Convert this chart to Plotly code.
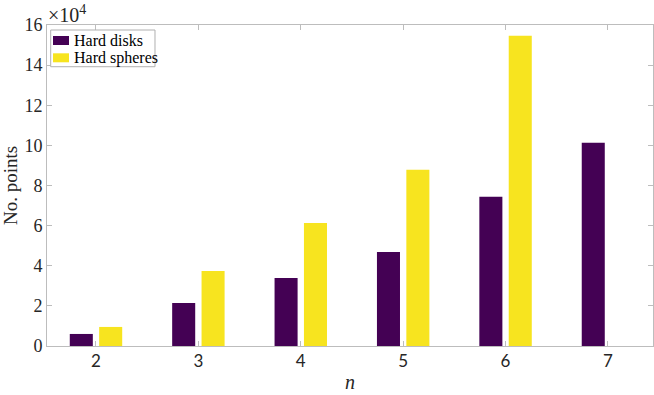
import plotly.graph_objects as go

# Number of points per dimension n
n_values = [2, 3, 4, 5, 6, 7]
hard_disks = [0.60, 2.14, 3.39, 4.69, 7.44, 10.13]        # x 10^4
hard_spheres = [0.95, 3.74, 6.13, 8.79, 15.47, None]     # x 10^4
y_ticks = [0, 2, 4, 6, 8, 10, 12, 14, 16]

series_names = ["Hard disks", "Hard spheres"]
series_colors = ["#440154", "#F7E41F"]

SERIF = "Liberation Serif"
SANS = "Lato"
AXIS_GRAY = "#bdbdbd"
TEXT = "#262626"

fig = go.Figure()
for name, vals, col in zip(series_names, [hard_disks, hard_spheres], series_colors):
    fig.add_trace(go.Bar(x=n_values, y=vals, name=name,
                         marker=dict(color=col, line=dict(width=0))))

axis_common = dict(
    showgrid=False, zeroline=False, showline=True, linecolor=AXIS_GRAY,
    linewidth=1, mirror="ticks", ticks="inside", ticklen=5,
    tickcolor=AXIS_GRAY,
)

fig.update_layout(
    width=654, height=395,
    margin=dict(l=47, r=1, t=25, b=49),
    paper_bgcolor="white", plot_bgcolor="white",
    barmode="group", bargap=0.426, bargroupgap=0.216,
    showlegend=False,
    xaxis=dict(**axis_common, range=[1.5215, 7.44], tickvals=n_values,
               tickfont=dict(family=SANS, size=17, color=TEXT),
               title=dict(text="<i>n</i>", font=dict(family=SERIF, size=20, color=TEXT),
                          standoff=4)),
    yaxis=dict(**axis_common, range=[0, 16], tickvals=y_ticks,
               tickfont=dict(family=SERIF, size=18, color=TEXT),
               title=dict(text="No. points", font=dict(family=SERIF, size=19, color=TEXT),
                          standoff=8)),
)

# Exponent label above the y axis
fig.add_annotation(text="\u00d710<sup>4</sup>", xref="paper", yref="paper",
                   x=-0.001, y=1.0, xanchor="left", yanchor="bottom",
                   showarrow=False, yshift=-3,
                   font=dict(family=SERIF, size=20, color=TEXT))

# Legend box drawn in paper coordinates
fig.add_shape(type="rect", xref="paper", yref="paper",
              x0=0.0061, x1=0.1782, y0=0.870, y1=0.9844,
              line=dict(color="#b0b0b0", width=1), fillcolor="white", layer="above")
legend_rows = [(0.9377, 0.9657), (0.8838, 0.9118)]
for (y0, y1), name, col in zip(legend_rows, series_names, series_colors):
    fig.add_shape(type="rect", xref="paper", yref="paper",
                  x0=0.0099, x1=0.0363, y0=y0, y1=y1,
                  line=dict(width=0), fillcolor=col, layer="above")
    fig.add_annotation(text=name, xref="paper", yref="paper",
                       x=0.0413, y=(y0 + y1) / 2, xanchor="left", yanchor="middle",
                       showarrow=False,
                       font=dict(family=SERIF, size=16, color="black"))

fig.write_html("out.html")
